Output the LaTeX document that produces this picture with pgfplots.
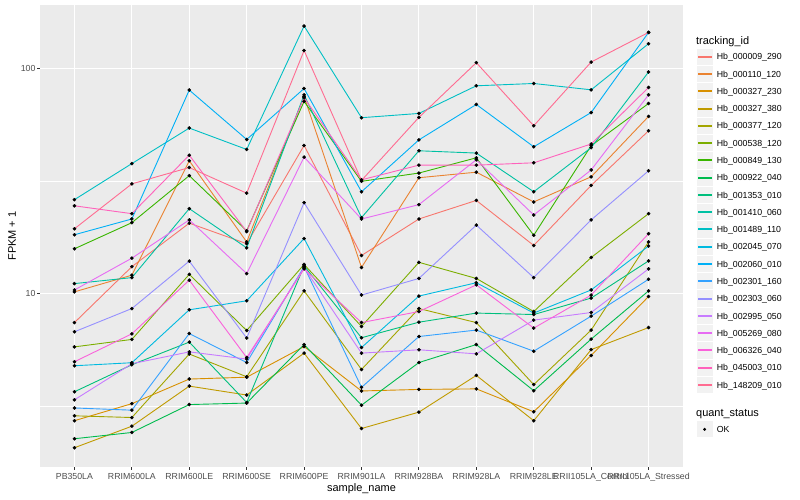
\documentclass[border=0pt]{standalone}
\usepackage{fontspec}
\setmainfont{Liberation Sans}
\usepackage{pgfplots}
\usepackage{pgfplotstable}
\pgfplotsset{compat=1.18}

\definecolor{panelbg}{HTML}{EBEBEB}
\definecolor{keybg}{HTML}{F2F2F2}
\definecolor{tickc}{HTML}{333333}
\definecolor{ticklab}{HTML}{4D4D4D}
\definecolor{c1}{HTML}{F8766D}
\definecolor{c2}{HTML}{EA8331}
\definecolor{c3}{HTML}{D89000}
\definecolor{c4}{HTML}{C09B00}
\definecolor{c5}{HTML}{A3A500}
\definecolor{c6}{HTML}{7CAE00}
\definecolor{c7}{HTML}{39B600}
\definecolor{c8}{HTML}{00BB4E}
\definecolor{c9}{HTML}{00BF7D}
\definecolor{c10}{HTML}{00C1A3}
\definecolor{c11}{HTML}{00BFC4}
\definecolor{c12}{HTML}{00BAE0}
\definecolor{c13}{HTML}{00B0F6}
\definecolor{c14}{HTML}{35A2FF}
\definecolor{c15}{HTML}{9590FF}
\definecolor{c16}{HTML}{C77CFF}
\definecolor{c17}{HTML}{E76BF3}
\definecolor{c18}{HTML}{FA62DB}
\definecolor{c19}{HTML}{FF62BC}
\definecolor{c20}{HTML}{FF6C91}

% FPKM + 1 per sample (rows) and tracking_id (columns h1..h20)
\pgfplotstableread{
x  h1    h2    h3   h4   h5    h6    h7    h8    h9    h10   h11   h12   h13   h14   h15   h16   h17   h18   h19   h20
0  7.45  10.2  2.73 2.07 2.87  5.81  15.85 2.27  3.67  11.1  26.2  4.79  18.3  3.11  6.78  3.38  10.4  4.99  24.6  19.45
1  13.2  12.1  3.25 2.58 2.82  6.27  20.7  2.42  4.84  11.8  37.9  4.94  21.5  3.04  8.6   4.89  14.4  6.64  22.7  30.8
2  20.6  39.0  4.18 3.89 5.40  12.2  33.5  3.22  6.10  23.9  54.5  8.49  80.4  6.66  13.97 5.52  21.3  11.5  41.3  36.4
3  16.7  17.0  4.26 3.55 4.28  6.87  19.05 3.27  3.29  16.0  43.8  9.31  48.5  4.95  6.36  5.13  12.3  5.21  18.9  28.0
4  45.6  75.3  5.83 5.45 10.3  13.5  71.6  5.95  13.3  76.6  154.8 17.6  81.7  13.2  25.4  13.05 40.5  12.9  74.3  120.5
5  14.8  13.1  3.70 2.52 4.61  7.16  31.6  3.20  6.38  21.8  60.6  5.77  28.4  3.84  9.87  5.45  21.5  7.45  32.1  31.9
6  21.5  32.8  3.76 2.98 8.6   13.8  34.4  4.95  7.48  43.2  63.3  9.77  48.3  6.46  11.7  5.64  24.9  8.34  37.3  60.8
7  26.0  34.7  3.78 4.34 7.45  11.7  40.2  5.95  8.21  42.2  84.0  11.2  69.4  6.90  20.2  5.41  39.4  10.96 37.3  106.4
8  16.4  25.6  2.99 2.73 3.95  8.34  18.2  3.71  8.09  28.4  86.0  8.21  45.0  5.56  11.8  7.64  22.4  7.04  38.2  55.8
9  30.3  33.1  5.32 5.65 6.90  14.5  45.5  6.29  9.57  44.6  80.6  10.4  63.9  7.96  21.3  8.26  35.5  9.87  46.3  107.1
10 53.0  61.4  9.73 7.08 17.0  22.7  70.1  10.3  14.0  96.7  129.2 16.3  145.0 11.6  35.2  12.9  76.6  18.5  82.6  145.0
}\fpkm

\begin{document}
\begin{tikzpicture}
\useasboundingbox (0,0) rectangle (800bp,500bp);
\begin{axis}[
  at={(40bp,33bp)}, anchor=south west,
  scale only axis, width=643bp, height=462bp,
  xmin=-0.6, xmax=10.6,
  ymode=log, ymin=1.70, ymax=192,
  axis background/.style={fill=panelbg},
  axis line style={draw=none},
  xtick={0,...,10},
  xticklabels={PB350LA,RRIM600LA,RRIM600LE,RRIM600SE,RRIM600PE,RRIM901LA,RRIM928BA,RRIM928LA,RRIM928LE,RRII105LA\_Control,RRII105LA\_Stressed},
  ytick={10,100}, yticklabels={10,100},
  minor ytick={3.1623,31.623},
  xmajorgrids, ymajorgrids, yminorgrids,
  major grid style={white, line width=1.07bp},
  minor grid style={white, line width=0.53bp},
  tick pos=left, tick align=outside,
  major tick length=2.75bp, minor tick length=0pt,
  tick style={color=tickc, line width=1.07bp},
  tick label style={font=\fontsize{8.8}{10}\selectfont, text=ticklab, inner sep=0pt},
  xticklabel style={anchor=base, yshift=-9.5bp},
  yticklabel style={anchor=east, xshift=-1.6bp},
  every axis x label/.style={at={(axis description cs:0.5,-0.052)}, anchor=base, inner sep=0pt, font=\fontsize{11}{13}\selectfont},
  every axis y label/.style={at={(axis description cs:-0.0375,0.5)}, rotate=90, anchor=base, inner sep=0pt, font=\fontsize{11}{13}\selectfont},
  xlabel={sample\_name},
  ylabel={FPKM + 1},
  clip=false,
]
\pgfplotsinvokeforeach{1,...,20}{
  \addplot[c#1, line width=0.9bp, mark=none] table[x=x, y=h#1] {\fpkm};
}
\pgfplotsinvokeforeach{1,...,20}{
  \addplot[only marks, mark=*, mark size=1.6bp, black] table[x=x, y=h#1] {\fpkm};
}
\end{axis}

% legend
\begin{scope}[x=1bp, y=1bp, font=\fontsize{8.8}{10}\selectfont]
\node[anchor=base west, inner sep=0pt, font=\fontsize{11}{13}\selectfont] at (696,455) {tracking\_id};
\foreach \lab [count=\i] in {Hb\_000009\_290, Hb\_000110\_120, Hb\_000327\_230, Hb\_000327\_380, Hb\_000377\_120, Hb\_000538\_120, Hb\_000849\_130, Hb\_000922\_040, Hb\_001353\_010, Hb\_001410\_060, Hb\_001489\_110, Hb\_002045\_070, Hb\_002060\_010, Hb\_002301\_160, Hb\_002303\_060, Hb\_002995\_050, Hb\_005269\_080, Hb\_006326\_040, Hb\_045003\_010, Hb\_148209\_010} {
  \pgfmathsetmacro\yc{443.3-17.28*(\i-1)}
  \pgfmathsetmacro\yl{round(\yc)}
  \filldraw[fill=keybg, draw=white, line width=1bp] (696,\yc-8.64) rectangle (713.28,\yc+8.64);
  \draw[c\i, line width=1.8bp] (698,\yl) -- (712,\yl);
  \node[anchor=base west, inner sep=0pt] at (716.7,\yc-3.1) {\lab};
}
\node[anchor=base west, inner sep=0pt, font=\fontsize{11}{13}\selectfont] at (696,84) {quant\_status};
\filldraw[fill=keybg, draw=white, line width=1bp] (696,70.7-8.64) rectangle (713.28,70.7+8.64);
\fill[black] (704.64,70.7) circle (1.6);
\node[anchor=base west, inner sep=0pt] at (716.7,67.6) {OK};
\end{scope}
\end{tikzpicture}
\end{document}
